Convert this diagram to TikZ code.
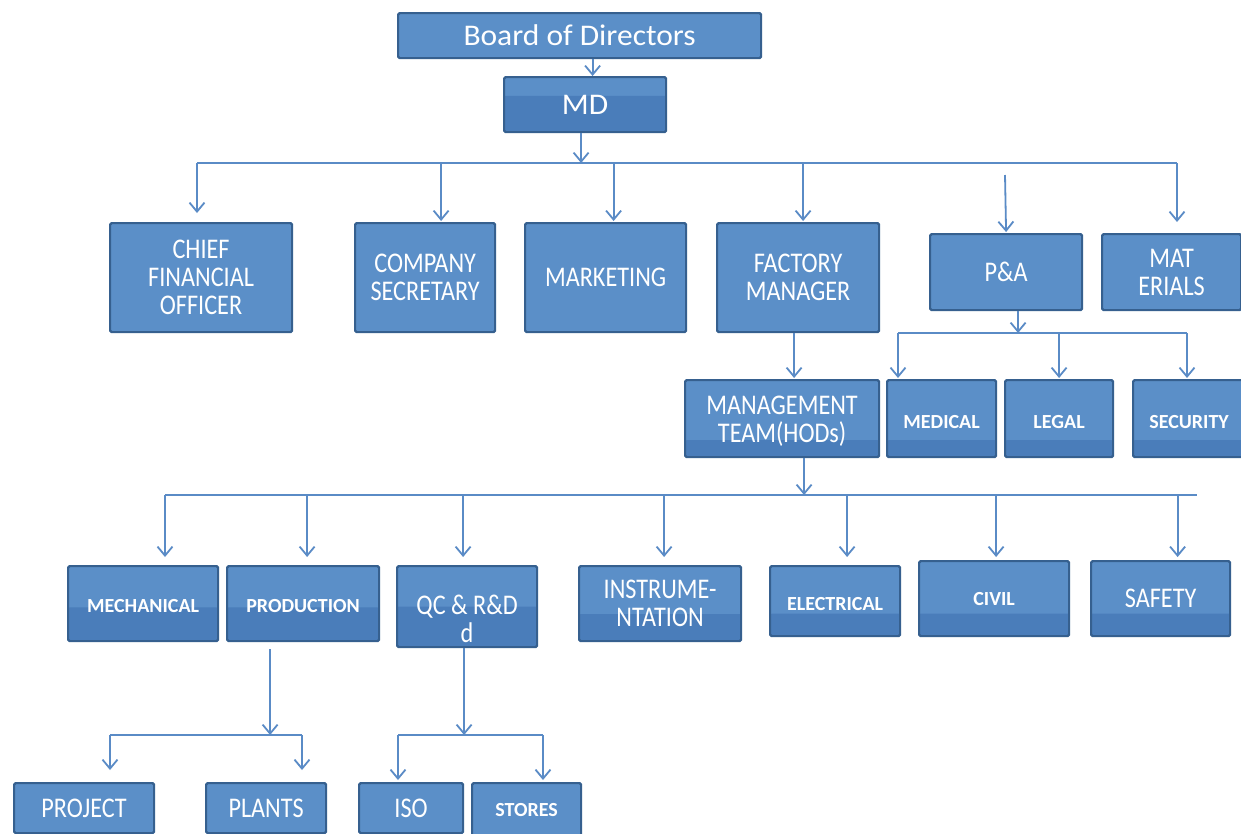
\documentclass[tikz,border=0pt]{standalone}
\usepackage{fontspec}
\setmainfont{Carlito}
\newfontfamily\lgf[FakeStretch=0.85]{Carlito}
\newfontfamily\hdf[FakeStretch=1.05]{Carlito}
\usetikzlibrary{arrows.meta,calc}
\definecolor{boxlight}{HTML}{5B8FC8}
\definecolor{boxdark}{HTML}{4A7DBA}
\definecolor{boxedge}{HTML}{36608F}
\definecolor{linec}{HTML}{5A8BC6}
\tikzset{
  bx/.style={draw=boxedge, line width=2.2pt, fill=boxlight, rounded corners=1.5pt,
    text=white, align=center, inner sep=0pt, anchor=north west},
  band/.style={path picture={\fill[boxdark] (path picture bounding box.south west)
    rectangle ($(path picture bounding box.north east)!#1!(path picture bounding box.south east)$);}},
  big/.style={font=\lgf\fontsize{28.5}{28}\selectfont},
  head/.style={font=\hdf\fontsize{30}{30}\selectfont},
  small/.style={font=\bfseries\fontsize{20}{22}\selectfont},
  ln/.style={draw=linec, line width=1.8pt},
  arr/.style={ln, -{Straight Barb[length=9pt,width=15pt,line width=1.8pt]}},
}
\begin{document}
\begin{tikzpicture}[x=1pt,y=-1pt]
\useasboundingbox (0,0) rectangle (1241,833);
\fill[white] (0,0) rectangle (1241,833);
% row 0
\node[bx, head, minimum width=363pt, minimum height=45pt] (bod) at (397,12) {Board of Directors};
\node[bx, head, band=0.34, minimum width=162pt, minimum height=55pt] (md) at (503,76) {MD};
% row 1
\node[bx, big, minimum width=182pt, minimum height=109pt] (cfo) at (109,222) {CHIEF\\FINANCIAL\\OFFICER};
\node[bx, big, minimum width=140pt, minimum height=109pt] (cs) at (354,222) {COMPANY\\SECRETARY};
\node[bx, big, minimum width=161pt, minimum height=109pt] (mkt) at (524,222) {MARKETING};
\node[bx, big, minimum width=162pt, minimum height=109pt] (fm) at (716,222) {FACTORY\\MANAGER};
\node[bx, big, minimum width=152pt, minimum height=76pt] (pa) at (929,233) {P\&A};
\node[bx, big, minimum width=139pt, minimum height=76pt] (mat) at (1101,233) {MAT\\ERIALS};
% row 2
\node[bx, big, band=0.78, minimum width=194pt, minimum height=77pt] (mgmt) at (684,379) {\rule{0pt}{24pt}MANAGEMENT\\TEAM(HODs)};
\node[bx, small, band=0.78, minimum width=109pt, minimum height=77pt] (med) at (886,379) {\rule{0pt}{20pt}MEDICAL};
\node[bx, small, band=0.78, minimum width=108pt, minimum height=77pt] (legal) at (1004,379) {\rule{0pt}{20pt}LEGAL};
\node[bx, small, band=0.78, minimum width=112pt, minimum height=77pt] (sec) at (1132,379) {\rule{0pt}{20pt}SECURITY};
% row 3
\node[bx, small, band=0.55, minimum width=150pt, minimum height=75pt] (mech) at (67,565) {\rule{0pt}{18pt}MECHANICAL};
\node[bx, small, band=0.55, minimum width=152pt, minimum height=75pt] (prod) at (226,565) {\rule{0pt}{18pt}PRODUCTION};
\node[bx, big, band=0.5, minimum width=140pt, minimum height=81pt] (qc) at (396,565) {\rule{0pt}{44pt}QC \& R\&D\\d};
\node[bx, big, band=0.64, minimum width=162pt, minimum height=75pt] (instr) at (578,565) {INSTRUME-\\NTATION};
\node[bx, small, band=0.68, minimum width=130pt, minimum height=70pt] (elec) at (769,565) {\rule{0pt}{18pt}ELECTRICAL};
\node[bx, small, band=0.7, minimum width=150pt, minimum height=75pt] (civil) at (918,560) {CIVIL};
\node[bx, big, band=0.7, minimum width=139pt, minimum height=75pt] (safety) at (1090,560) {SAFETY};
% row 4
\node[bx, big, minimum width=140pt, minimum height=50pt] (project) at (13,782) {PROJECT};
\node[bx, big, minimum width=120pt, minimum height=50pt] (plants) at (205,782) {PLANTS};
\node[bx, big, minimum width=104pt, minimum height=50pt] (iso) at (358,782) {ISO};
\node[bx, small, minimum width=109pt, minimum height=54pt] (stores) at (471,782) {STORES};
% buses
\coordinate (b1L) at (197,163); \coordinate (b1R) at (1177,163);
\coordinate (paTop) at (1005,175);
\coordinate (b2L) at (898,333); \coordinate (b2R) at (1187,333);
\coordinate (b3L) at (165,495); \coordinate (b3R) at (1197,495);
\coordinate (b4L) at (110,735); \coordinate (b4R) at (302,735);
\coordinate (b5L) at (398,735); \coordinate (b5R) at (543,735);
% connectors
\draw[arr] ([xshift=13pt]bod.south) -- ([xshift=13pt]bod.south |- md.north);
\draw[ln] (b1L) -- (b1R);
\draw[arr] ([xshift=-4pt]md.south) -- ([xshift=-4pt]md.south |- b1L);
\draw[arr, shorten >=9pt] (b1L) -- (b1L |- cfo.north);
\draw[arr, shorten >=1pt] ([xshift=16pt]cs.north |- b1L) -- ([xshift=16pt]cs.north);
\draw[arr, shorten >=1pt] ([xshift=8pt]mkt.north |- b1L) -- ([xshift=8pt]mkt.north);
\draw[arr, shorten >=1pt] ([xshift=5pt]fm.north |- b1L) -- ([xshift=5pt]fm.north);
\draw[arr, shorten >=1pt] (paTop) -- (pa.north);
\draw[arr, shorten >=11pt] (b1R) -- (b1R |- mat.north);
\draw[arr] ([xshift=12pt]pa.south) -- ([xshift=12pt]pa.south |- b2L);
\draw[ln] (b2L) -- (b2R);
\draw[arr, shorten >=1pt] (b2L) -- (b2L |- med.north);
\draw[arr, shorten >=1pt] (legal.north |- b2L) -- (legal.north);
\draw[arr, shorten >=1pt] (b2R) -- (b2R |- sec.north);
\draw[arr, shorten >=1pt] ([xshift=-4pt]fm.south) -- ([xshift=-4pt]fm.south |- mgmt.north);
\draw[ln] (b3L) -- (b3R);
\draw[arr] ([xshift=22pt]mgmt.south) -- ([xshift=22pt]mgmt.south |- b3L);
\draw[arr, shorten >=8pt] (b3L) -- (b3L |- mech.north);
\draw[arr, shorten >=8pt] ([xshift=4pt]prod.north |- b3L) -- ([xshift=4pt]prod.north);
\draw[arr, shorten >=8pt] ([xshift=-4pt]qc.north |- b3L) -- ([xshift=-4pt]qc.north);
\draw[arr, shorten >=8pt] ([xshift=4pt]instr.north |- b3L) -- ([xshift=4pt]instr.north);
\draw[arr, shorten >=8pt] ([xshift=12pt]elec.north |- b3L) -- ([xshift=12pt]elec.north);
\draw[arr, shorten >=3pt] ([xshift=2pt]civil.north |- b3L) -- ([xshift=2pt]civil.north);
\draw[arr, shorten >=3pt] ([xshift=17pt]safety.north |- b3L) -- ([xshift=17pt]safety.north);
\draw[arr, shorten <=7pt] ([xshift=-33pt]prod.south) -- ([xshift=-33pt]prod.south |- b4L);
\draw[ln] (b4L) -- (b4R);
\draw[arr, shorten >=12pt] (b4L) -- (b4L |- project.north);
\draw[arr, shorten >=12pt] (b4R) -- (b4R |- plants.north);
\draw[arr] ([xshift=-3pt]qc.south) -- ([xshift=-3pt]qc.south |- b5L);
\draw[ln] (b5L) -- (b5R);
\draw[arr, shorten >=2pt] (b5L) -- (b5L |- iso.north);
\draw[arr, shorten >=2pt] (b5R) -- (b5R |- stores.north);
\end{tikzpicture}
\end{document}
